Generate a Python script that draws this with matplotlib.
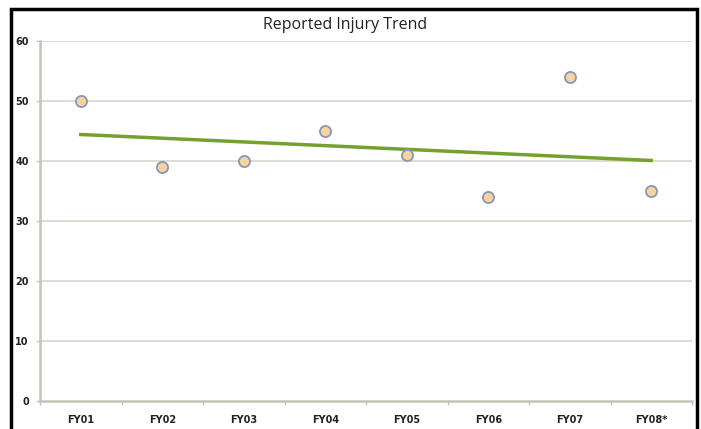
import matplotlib
matplotlib.use("Agg")
import matplotlib.pyplot as plt
from matplotlib.patches import Rectangle
import numpy as np

categories = ["FY01", "FY02", "FY03", "FY04", "FY05", "FY06", "FY07", "FY08*"]
injuries = [50, 39, 40, 45, 41, 34, 54, 35]
title = "Reported Injury Trend"

W, H = 701, 429
fig = plt.figure(figsize=(W / 100, H / 100), dpi=100)
fig.patch.set_facecolor("white")

ax = fig.add_axes([40 / W, 1 - 401 / H, (692 - 40) / W, (401 - 41) / H])
x = np.arange(len(categories))

grid_c = "#dcd8cf"
ax.set_ylim(0, 60)
ax.set_xlim(-0.5, len(categories) - 0.5)
ax.set_yticks(range(0, 61, 10))
for yv in range(10, 61, 10):
    ax.axhline(yv, color=grid_c, lw=1.3, zorder=0)

# trend line (linear fit)
coef = np.polyfit(x, injuries, 1)
ax.plot(x, np.polyval(coef, x), color="#76a02c", lw=2.5, zorder=2)

ax.plot(x, injuries, linestyle="none", marker="o", markersize=8,
        markerfacecolor="#f8d3a0", markeredgecolor="#8797bb", markeredgewidth=1.3, zorder=3)

for s in ["top", "right"]:
    ax.spines[s].set_visible(False)
for s in ["left", "bottom"]:
    ax.spines[s].set_color("#c8c3b8")
    ax.spines[s].set_linewidth(1.8)

ax.set_xticks(x)
ax.set_xticklabels(categories, fontsize=7, fontweight="bold", color="#222222")
ax.tick_params(axis="x", length=0, pad=10)
ax.set_xticks(np.arange(-0.5, len(categories), 1), minor=True)
ax.tick_params(axis="x", which="minor", length=3, color="#c8c3b8", width=1)
ax.set_yticklabels([str(v) for v in range(0, 61, 10)], fontsize=7, fontweight="bold", color="#222222")
ax.tick_params(axis="y", length=3, color="#c8c3b8", width=1, pad=5)

fig.text(345 / W, 1 - 25 / H, title, ha="center", va="center", fontsize=11.5,
         family="Open Sans", color="#222222")

fig.patches.append(Rectangle((11 / W, -0.02), (697 - 11) / W, 1 - 9 / H + 0.02,
                             transform=fig.transFigure, fill=False, ec="black", lw=2.5))

fig.savefig("out.png", dpi=100)
